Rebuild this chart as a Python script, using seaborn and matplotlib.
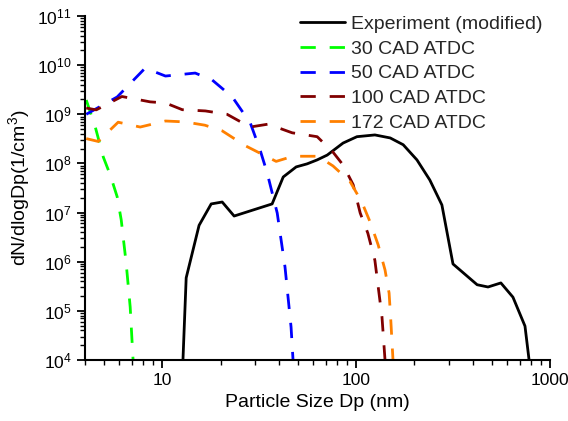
import matplotlib
matplotlib.use("Agg")
import matplotlib.pyplot as plt
import matplotlib.ticker as mticker
import numpy as np
import pandas as pd
import seaborn as sns

# ---- data ----
exp_x = [12.8, 13.3, 15.5, 17.9, 20.4, 23.5, 36.9, 42.1, 49.1, 55.9, 63, 71, 85.7, 101, 125, 150, 175, 206, 240, 277, 316, 421, 479, 558, 644, 743, 780]
exp_y = [1e4, 4.7e5, 5.5e6, 1.5e7, 1.64e7, 8.5e6, 1.5e7, 5.3e7, 8.5e7, 9.8e7, 1.18e8, 1.48e8, 2.6e8, 3.5e8, 3.8e8, 3.3e8, 2.4e8, 1.18e8, 4.6e7, 1.43e7, 9.0e5, 3.4e5, 3.06e5, 3.7e5, 1.9e5, 4.9e4, 1e4]

c30_x = [4.06, 4.52, 4.97, 5.4, 5.86, 6.15, 6.52, 6.84, 7.08]
c30_y = [1.95e9, 5.5e8, 1.35e8, 5.8e7, 2.1e7, 7.1e6, 9.4e5, 1.2e5, 1e4]

c50_x = [4.06, 5.86, 8.17, 10.4, 14.8, 18.1, 23, 28.5, 32, 34.8, 39.2, 43, 46.2, 47.3]
c50_y = [1.0e9, 2.25e9, 8.7e9, 6.0e9, 6.9e9, 5.0e9, 2.25e9, 6.6e8, 1.87e8, 6.4e7, 9.8e6, 7.8e5, 4.7e4, 1e4]

c100_x = [4.06, 4.57, 6.2, 8.67, 10.4, 12.7, 16.7, 21.6, 28.4, 35.2, 46.8, 63, 76, 85.7, 96.6, 105, 115, 125, 136, 141]
c100_y = [1.34e9, 1.23e9, 2.3e9, 1.79e9, 1.7e9, 1.24e9, 1.17e9, 1.0e9, 5.5e8, 6.3e8, 4.2e8, 3.5e8, 1.7e8, 9.3e7, 3.7e7, 9.8e6, 3.8e6, 1.07e6, 7.5e4, 1e4]

c172_x = [4.06, 4.68, 5.93, 7.7, 10.4, 13.1, 16.6, 20.4, 26.8, 38.7, 47.3, 63.6, 76, 93, 107, 118, 130, 141, 148, 151, 155]
c172_y = [3.2e8, 2.8e8, 6.9e8, 5.5e8, 7.3e8, 7.0e8, 6.0e8, 4.6e8, 2.3e8, 1.1e8, 1.4e8, 1.4e8, 8.9e7, 4.3e7, 1.64e7, 6.5e6, 2.2e6, 6.8e5, 2.3e5, 6.5e4, 1e4]

labels = ["Experiment (modified)", "30 CAD ATDC", "50 CAD ATDC", "100 CAD ATDC", "172 CAD ATDC"]
colors = ["#000000", "#00ff00", "#0000ff", "#800000", "#ff8000"]

series = [(exp_x, exp_y), (c30_x, c30_y), (c50_x, c50_y), (c100_x, c100_y), (c172_x, c172_y)]

sns.set_theme(style="ticks")
plt.rcParams["font.family"] = ["Liberation Sans", "DejaVu Sans"]
plt.rcParams["mathtext.fontset"] = "custom"
plt.rcParams["mathtext.rm"] = "Liberation Sans"
plt.rcParams["mathtext.it"] = "Liberation Sans:italic"

fig = plt.figure(figsize=(5.68, 4.21), dpi=100)
ax = fig.add_axes([85 / 568, 1 - 360 / 421, (550 - 85) / 568, (360 - 16) / 421])

for (xs, ys), lab, col in zip(series, labels, colors):
    df = pd.DataFrame({"x": xs, "y": ys})
    if lab.startswith("Experiment"):
        sns.lineplot(data=df, x="x", y="y", ax=ax, color=col, lw=2.0, label=lab,
                     sort=False, estimator=None)
    else:
        sns.lineplot(data=df, x="x", y="y", ax=ax, color=col, lw=2.0, label=lab,
                     sort=False, estimator=None, linestyle=(0, (5.5, 5.0)))

ax.set_xscale("log")
ax.set_yscale("log")
ax.set_xlim(4, 1000)
ax.set_ylim(1e4, 1e11)

ax.xaxis.set_major_locator(mticker.LogLocator(base=10, numticks=10))
ax.xaxis.set_minor_locator(mticker.LogLocator(base=10, subs=np.arange(2, 10), numticks=20))
ax.xaxis.set_major_formatter(mticker.FuncFormatter(lambda v, p: f"{int(round(v))}"))
ax.xaxis.set_minor_formatter(mticker.NullFormatter())
ax.yaxis.set_major_locator(mticker.LogLocator(base=10, numticks=20))
ax.yaxis.set_minor_locator(mticker.LogLocator(base=10, subs=np.arange(2, 10), numticks=20))
ax.yaxis.set_major_formatter(mticker.LogFormatterMathtext())
ax.yaxis.set_minor_formatter(mticker.NullFormatter())

sns.despine(ax=ax)
for s in ["left", "bottom"]:
    ax.spines[s].set_linewidth(1.5)
    ax.spines[s].set_color("black")
ax.tick_params(which="major", direction="out", length=6, width=1.3, labelsize=12.5, colors="black")
ax.tick_params(which="minor", direction="out", length=3.5, width=1.0, colors="black")

ax.set_xlabel("Particle Size Dp (nm)", fontsize=14, color="black")
ax.set_ylabel("dN/dlogDp(1/cm$^3$)", fontsize=14, color="black")
ax.grid(False)

leg = ax.legend(loc="upper right", bbox_to_anchor=(1.0, 1.025), frameon=False, fontsize=14,
                handlelength=2.3, handletextpad=0.3, labelspacing=0.37, borderaxespad=0.0)

fig.savefig("out.png", dpi=100)
